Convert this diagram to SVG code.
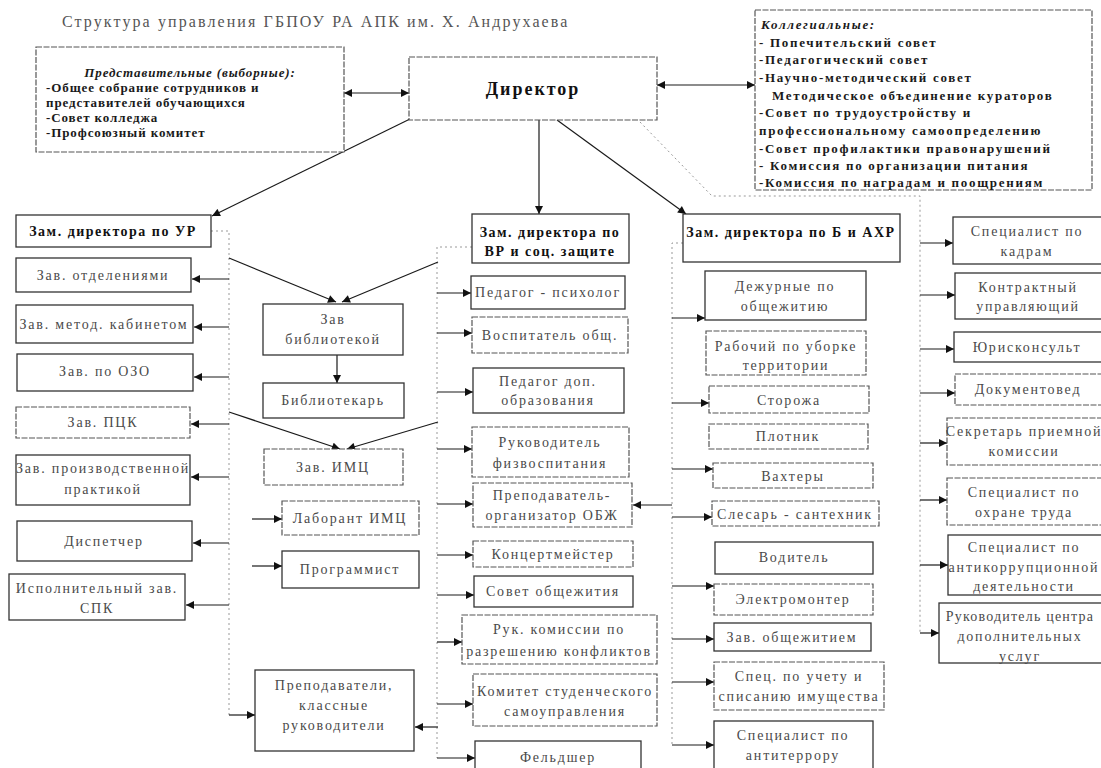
<svg xmlns="http://www.w3.org/2000/svg" width="1101" height="768" viewBox="0 0 1101 768">
<defs>
<marker id="a" viewBox="0 0 10 10" refX="10" refY="5" markerWidth="10" markerHeight="8" markerUnits="userSpaceOnUse" orient="auto-start-reverse"><path d="M0,0 L10,5 L0,10 z" fill="#111"/></marker>
</defs>
<style>
.bx{fill:#fff;stroke:#333;stroke-width:1.3}
.bd{fill:#fff;stroke:#555;stroke-width:1.2;stroke-dasharray:6 1.5}
.t{font-family:"Liberation Serif","Times New Roman",serif;font-size:14px;fill:#4a4a4a;text-anchor:middle;letter-spacing:1.8px}
.b{font-weight:bold;fill:#111;letter-spacing:1.5px}
.l{font-family:"Liberation Serif","Times New Roman",serif;font-size:13px;font-weight:bold;fill:#1a1a1a;letter-spacing:0.9px}
.c{letter-spacing:1.7px}
.ln{stroke:#1a1a1a;stroke-width:1.2;fill:none}
.ar{stroke:#1a1a1a;stroke-width:1.2;fill:none;marker-end:url(#a)}
.da{stroke:#1a1a1a;stroke-width:1.2;fill:none;marker-start:url(#a);marker-end:url(#a)}
.dt{stroke:#999;stroke-width:1;fill:none;stroke-dasharray:2 3}
</style>
<text x="62" y="27" style="font-family:'Liberation Serif','Times New Roman',serif;font-size:16px;fill:#555;letter-spacing:2.1px">Структура управления ГБПОУ РА АПК им. Х. Андрухаева</text>

<g id="connectors">
<path class="da" d="M344,93 H409"/>
<path class="da" d="M657,85 H755"/>
<path class="ar" d="M410,119 L212,216"/>
<path class="ar" d="M539,120 V214"/>
<path class="ar" d="M557,120 L686,214"/>
<path class="dt" d="M640,122 L712,196 H920 V633"/>
<path class="dt" d="M211,231 H229 V715"/>
<path class="dt" d="M472,247 H437 V758"/>
<path class="dt" d="M683,243 H672 V745"/>
<path class="ar" d="M229,279 H192"/>
<path class="ar" d="M229,327 H194"/>
<path class="ar" d="M229,377 H194"/>
<path class="ar" d="M229,424 H191"/>
<path class="ar" d="M229,477 H191"/>
<path class="ar" d="M229,543 H193"/>
<path class="ar" d="M229,605 H186"/>
<path class="ar" d="M229,258 L336,302"/>
<path class="ar" d="M438,262 L342,302"/>
<path class="ar" d="M229,412 L340,449"/>
<path class="ar" d="M438,422 L347,449"/>
<path class="ar" d="M337,355 V383"/>
<path class="ar" d="M252,519 H282"/>
<path class="ar" d="M252,566 H282"/>
<path class="ar" d="M229,715 H255"/>
<path class="ar" d="M438,727 H415"/>
<path class="ar" d="M437,293 H471"/>
<path class="ar" d="M437,333 H472"/>
<path class="ar" d="M437,392 H473"/>
<path class="ar" d="M437,449 H472"/>
<path class="ar" d="M437,504 H473"/>
<path class="ar" d="M437,555 H473"/>
<path class="ar" d="M437,595 H474"/>
<path class="ar" d="M437,642 H462"/>
<path class="ar" d="M437,704 H473"/>
<path class="ar" d="M437,758 H475"/>
<path class="ar" d="M672,505 H633"/>
<path class="ar" d="M672,318 H705"/>
<path class="ar" d="M672,403 H709"/>
<path class="ar" d="M672,469 H713"/>
<path class="ar" d="M672,517 H712"/>
<path class="ar" d="M672,586 H714"/>
<path class="ar" d="M672,639 H714"/>
<path class="ar" d="M672,682 H714"/>
<path class="ar" d="M672,745 H714"/>
<path class="ar" d="M920,243 H953"/>
<path class="ar" d="M920,295 H955"/>
<path class="ar" d="M920,349 H954"/>
<path class="ar" d="M920,393 H955"/>
<path class="ar" d="M920,443 H947"/>
<path class="ar" d="M920,500 H947"/>
<path class="ar" d="M920,565 H948"/>
<path class="ar" d="M920,633 H939"/>
</g>

<g id="n-rep"><rect class="bd" x="36" y="47" width="308" height="105"/>
<text class="l" x="190" y="77" text-anchor="middle" font-style="italic">Представительные (выборные):</text>
<text class="l" x="46" y="92">-Общее собрание сотрудников и</text>
<text class="l" x="46" y="107">представителей обучающихся</text>
<text class="l" x="46" y="122">-Совет колледжа</text>
<text class="l" x="46" y="137">-Профсоюзный комитет</text></g>

<g id="n-dir"><rect class="bd" x="409" y="57" width="248" height="63"/>
<text class="t b" x="533" y="95" style="font-size:18px;letter-spacing:2px">Директор</text></g>

<g id="n-coll"><rect class="bd" x="755" y="10" width="337" height="180"/>
<text class="l c" x="761" y="29" font-style="italic">Коллегиальные:</text>
<text class="l c" x="759" y="47">- Попечительский совет</text>
<text class="l c" x="759" y="64">-Педагогический совет</text>
<text class="l c" x="759" y="82">-Научно-методический совет</text>
<text class="l c" x="772" y="100">Методическое объединение кураторов</text>
<text class="l c" x="759" y="117">-Совет по трудоустройству и</text>
<text class="l c" x="759" y="135">профессиональному самоопределению</text>
<text class="l c" x="759" y="153">-Совет профилактики правонарушений</text>
<text class="l c" x="759" y="170">- Комиссия по организации питания</text>
<text class="l c" x="759" y="187">-Комиссия по наградам и поощрениям</text></g>

<g id="n-ur"><rect class="bx" x="16" y="215" width="195" height="32"/><text class="t b" x="113" y="236">Зам. директора по УР</text></g>
<g id="n-otd"><rect class="bx" x="16" y="258" width="175" height="34"/><text class="t" x="103" y="280">Зав. отделениями</text></g>
<g id="n-met"><rect class="bx" x="16" y="305" width="177" height="38"/><text class="t" x="104" y="329">Зав. метод. кабинетом</text></g>
<g id="n-ozo"><rect class="bx" x="17" y="354" width="176" height="37"/><text class="t" x="105" y="376">Зав. по ОЗО</text></g>
<g id="n-pck"><rect class="bd" x="16" y="407" width="174" height="31"/><text class="t" x="103" y="427">Зав. ПЦК</text></g>
<g id="n-pp"><rect class="bx" x="16" y="455" width="174" height="50"/><text class="t" x="103" y="473">Зав. производственной</text><text class="t" x="103" y="494">практикой</text></g>
<g id="n-disp"><rect class="bx" x="17" y="521" width="175" height="40"/><text class="t" x="104" y="546">Диспетчер</text></g>
<g id="n-spk"><rect class="bx" x="9" y="574" width="176" height="46"/><text class="t" x="97" y="593">Исполнительный зав.</text><text class="t" x="97" y="613">СПК</text></g>

<g id="n-lib"><rect class="bx" x="263" y="304" width="140" height="51"/><text class="t" x="333" y="324">Зав</text><text class="t" x="333" y="344">библиотекой</text></g>
<g id="n-libr"><rect class="bx" x="263" y="383" width="141" height="35"/><text class="t" x="333" y="405">Библиотекарь</text></g>
<g id="n-imc"><rect class="bd" x="264" y="449" width="139" height="36"/><text class="t" x="333" y="472">Зав. ИМЦ</text></g>
<g id="n-lab"><rect class="bd" x="282" y="501" width="137" height="34"/><text class="t" x="350" y="523">Лаборант ИМЦ</text></g>
<g id="n-prog"><rect class="bx" x="282" y="551" width="137" height="37"/><text class="t" x="350" y="574">Программист</text></g>
<g id="n-prep"><rect class="bx" x="255" y="670" width="159" height="81"/><text class="t" x="334" y="690">Преподаватели,</text><text class="t" x="334" y="710">классные</text><text class="t" x="334" y="730">руководители</text></g>

<g id="n-vr"><rect class="bx" x="472" y="214" width="157" height="49"/><text class="t b" x="550" y="237">Зам. директора по</text><text class="t b" x="550" y="256">ВР и соц. защите</text></g>
<g id="n-psy"><rect class="bx" x="471" y="276" width="154" height="33"/><text class="t" x="548" y="297">Педагог - психолог</text></g>
<g id="n-vos"><rect class="bd" x="472" y="317" width="156" height="36"/><text class="t" x="550" y="340">Воспитатель общ.</text></g>
<g id="n-dop"><rect class="bx" x="473" y="368" width="151" height="45"/><text class="t" x="548" y="386">Педагог доп.</text><text class="t" x="548" y="405">образования</text></g>
<g id="n-fiz"><rect class="bd" x="472" y="427" width="157" height="50"/><text class="t" x="550" y="447">Руководитель</text><text class="t" x="550" y="468">физвоспитания</text></g>
<g id="n-obzh"><rect class="bd" x="473" y="483" width="159" height="44"/><text class="t" x="552" y="500">Преподаватель-</text><text class="t" x="552" y="520">организатор ОБЖ</text></g>
<g id="n-konc"><rect class="bd" x="473" y="541" width="160" height="26"/><text class="t" x="553" y="559">Концертмейстер</text></g>
<g id="n-sov"><rect class="bx" x="474" y="576" width="159" height="31"/><text class="t" x="553" y="596">Совет общежития</text></g>
<g id="n-konf"><rect class="bd" x="462" y="615" width="195" height="49"/><text class="t" x="559" y="634">Рук. комиссии по</text><text class="t" x="559" y="656">разрешению конфликтов</text></g>
<g id="n-kom"><rect class="bd" x="473" y="674" width="184" height="52"/><text class="t" x="565" y="696">Комитет студенческого</text><text class="t" x="565" y="716">самоуправления</text></g>
<g id="n-feld"><rect class="bx" x="475" y="741" width="166" height="40"/><text class="t" x="558" y="762">Фельдшер</text></g>

<g id="n-axp"><rect class="bx" x="683" y="214" width="217" height="48"/><text class="t b" x="791" y="237">Зам. директора по Б и АХР</text></g>
<g id="n-dezh"><rect class="bx" x="705" y="271" width="161" height="49"/><text class="t" x="785" y="291">Дежурные по</text><text class="t" x="785" y="311">общежитию</text></g>
<g id="n-rab"><rect class="bd" x="706" y="331" width="160" height="44"/><text class="t" x="786" y="351">Рабочий по уборке</text><text class="t" x="786" y="370">территории</text></g>
<g id="n-stor"><rect class="bd" x="709" y="386" width="160" height="27"/><text class="t" x="789" y="405">Сторожа</text></g>
<g id="n-plot"><rect class="bd" x="709" y="424" width="159" height="25"/><text class="t" x="788" y="441">Плотник</text></g>
<g id="n-vaht"><rect class="bd" x="713" y="463" width="160" height="25"/><text class="t" x="793" y="481">Вахтеры</text></g>
<g id="n-sles"><rect class="bd" x="712" y="501" width="167" height="25"/><text class="t" x="795" y="519">Слесарь - сантехник</text></g>
<g id="n-vod"><rect class="bx" x="715" y="542" width="158" height="32"/><text class="t" x="794" y="562">Водитель</text></g>
<g id="n-el"><rect class="bd" x="714" y="584" width="159" height="31"/><text class="t" x="793" y="604">Электромонтер</text></g>
<g id="n-zavob"><rect class="bx" x="714" y="623" width="157" height="28"/><text class="t" x="792" y="642">Зав. общежитием</text></g>
<g id="n-spis"><rect class="bd" x="714" y="662" width="170" height="48"/><text class="t" x="799" y="681">Спец. по учету и</text><text class="t" x="799" y="701">списанию имущества</text></g>
<g id="n-terr"><rect class="bx" x="714" y="721" width="159" height="55"/><text class="t" x="793" y="740">Специалист по</text><text class="t" x="793" y="760">антитеррору</text></g>

<g id="n-kadr"><rect class="bx" x="953" y="217" width="151" height="47"/><text class="t" x="1027" y="236">Специалист по</text><text class="t" x="1027" y="256">кадрам</text></g>
<g id="n-kontr"><rect class="bx" x="955" y="273" width="149" height="46"/><text class="t" x="1028" y="292">Контрактный</text><text class="t" x="1028" y="311">управляющий</text></g>
<g id="n-jur"><rect class="bx" x="954" y="332" width="150" height="30"/><text class="t" x="1027" y="352">Юрисконсульт</text></g>
<g id="n-doc"><rect class="bd" x="955" y="374" width="149" height="31"/><text class="t" x="1028" y="394">Документовед</text></g>
<g id="n-sekr"><rect class="bd" x="947" y="418" width="157" height="47"/><text class="t" x="1024" y="436">Секретарь приемной</text><text class="t" x="1024" y="456">комиссии</text></g>
<g id="n-ohr"><rect class="bd" x="947" y="478" width="157" height="47"/><text class="t" x="1024" y="497">Специалист по</text><text class="t" x="1024" y="517">охране труда</text></g>
<g id="n-akor"><rect class="bx" x="948" y="535" width="156" height="60"/><text class="t" x="1024" y="552">Специалист по</text><text class="t" x="1024" y="572">антикоррупционной</text><text class="t" x="1024" y="591">деятельности</text></g>
<g id="n-cdu"><rect class="bx" x="939" y="603" width="165" height="60"/><text class="t" x="1020" y="621" style="letter-spacing:1.2px">Руководитель центра</text><text class="t" x="1020" y="641">дополнительных</text><text class="t" x="1020" y="661">услуг</text></g>
</svg>
